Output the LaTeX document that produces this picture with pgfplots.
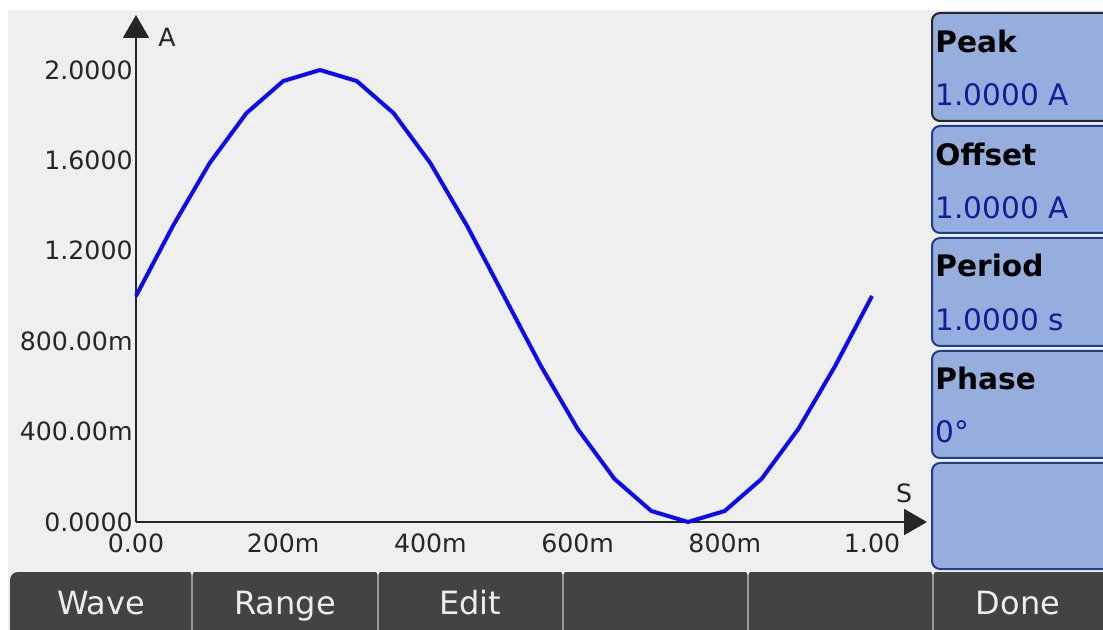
\documentclass[border=0pt]{standalone}
\usepackage{pgfplots}
\pgfplotsset{compat=1.18}
\usepackage{fontspec}
\setmainfont{DejaVu Sans}
\usetikzlibrary{arrows.meta}
\definecolor{bg}{HTML}{EFEFEF}
\definecolor{panelblue}{HTML}{95AEDE}
\definecolor{panelborder}{HTML}{1F3F8C}
\definecolor{valtext}{HTML}{1A1A99}
\definecolor{bardark}{HTML}{434441}
\definecolor{bartext}{HTML}{EDEDED}
\definecolor{sep}{HTML}{9A9A9A}
\definecolor{curve}{HTML}{0A0AF5}
\begin{document}
\begin{tikzpicture}[x=0.5pt,y=-0.5pt]
\fill[white] (0,0) rectangle (1103,630);
\fill[bg] (8,10) rectangle (1103,630);
% right panel buttons
\foreach \a/\b in {126/233, 238/346, 351/458, 463/569}{
  \filldraw[fill=panelblue, draw=panelborder, line width=1pt, rounded corners=4pt] (932,\a) rectangle (1125,\b);
}
\filldraw[fill=panelblue, draw=black!85, line width=1pt, rounded corners=4pt] (932,13) rectangle (1125,121);
\foreach \y/\t in {53/Peak, 166/Offset, 277/Period, 390/Phase}{
  \node[anchor=base west, inner sep=0pt, font=\fontsize{14.8}{16}\selectfont\bfseries] at (935,\y) {\t};
}
\foreach \y/\t in {106/{1.0000 A}, 219/{1.0000 A}, 331/{1.0000 s}, 443/{0°}}{
  \node[anchor=base west, inner sep=0pt, text=valtext, font=\fontsize{14.8}{16}\selectfont] at (935,\y) {\t};
}
% bottom bar
\fill[bardark, rounded corners=4pt] (10,572) rectangle (1110,640);
\foreach \x in {192,378,563,748,933}{
  \draw[sep, line width=1pt] (\x,572) -- (\x,630);
  \fill[bg] (\x-3,570) -- (\x+3,570) -- (\x,575) -- cycle;
}
\foreach \x/\t in {101/Wave, 285/Range, 470/Edit, 1018/Done}{
  \node[anchor=base, inner sep=0pt, text=bartext, font=\fontsize{16}{18}\selectfont] at (\x,614) {\t};
}
\begin{axis}[
  at={(68pt,-261pt)}, anchor=south west,
  scale only axis, width=395.5pt, height=253.5pt,
  xmin=0, xmax=1.0747, ymin=0, ymax=2.2434,
  axis lines=left,
  axis line style={line width=1pt, draw=black!85, -{Triangle[width=13pt,length=11.5pt]}},
  major tick length=0pt,
  xtick={0,0.2,0.4,0.6,0.8,1.0},
  xticklabels={0.00,200m,400m,600m,800m,1.00},
  ytick={0,0.4,0.8,1.2,1.6,2.0},
  yticklabels={0.0000,400.00m,800.00m,1.2000,1.6000,2.0000},
  /pgf/number format/assume math mode=true,
  ticklabel style={font=\fontsize{12.6}{14}\selectfont, text=black!85},
  yticklabel style={inner sep=0pt, xshift=-1.5pt},
  xticklabel style={inner sep=0pt, yshift=-5.5pt},
  clip=false,
]
\addplot[curve, line width=2pt, line join=round] coordinates {
(0.00,1.0000) (0.05,1.3090) (0.10,1.5878) (0.15,1.8090) (0.20,1.9511)
(0.25,2.0000) (0.30,1.9511) (0.35,1.8090) (0.40,1.5878) (0.45,1.3090)
(0.50,1.0000) (0.55,0.6910) (0.60,0.4122) (0.65,0.1910) (0.70,0.0489)
(0.75,0.0000) (0.80,0.0489) (0.85,0.1910) (0.90,0.4122) (0.95,0.6910)
(1.00,1.0000)
};
\end{axis}
\node[font=\fontsize{12.6}{14}\selectfont, text=black!85] at (167,37) {A};
\node[font=\fontsize{12.6}{14}\selectfont, text=black!85] at (904,493) {S};
\pgfresetboundingbox
\path (0,0) rectangle (1103,630);
\end{tikzpicture}
\end{document}
